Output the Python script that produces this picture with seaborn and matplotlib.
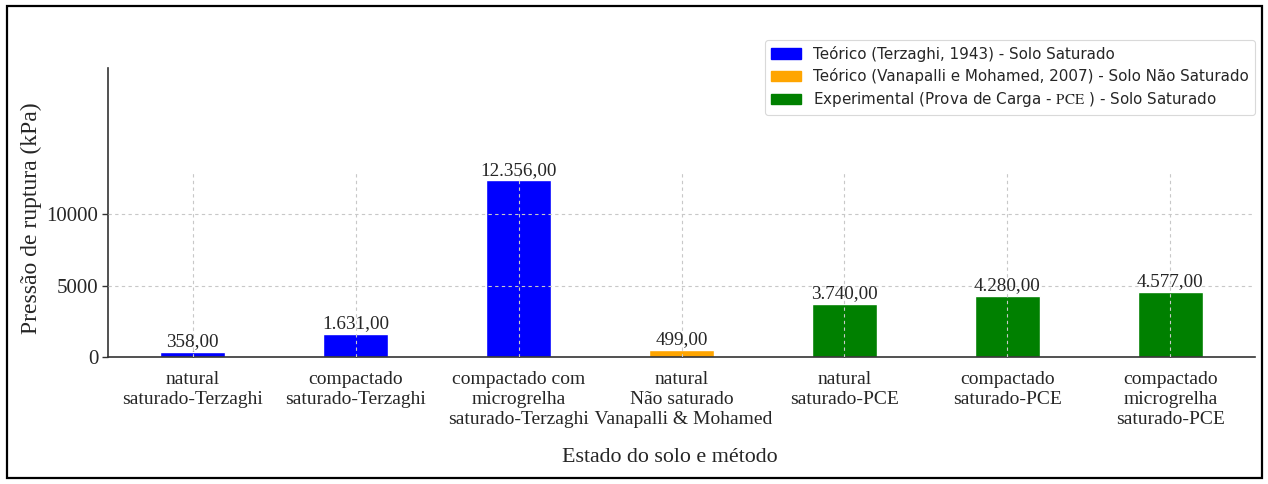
import matplotlib
matplotlib.use("Agg")
import matplotlib.pyplot as plt
import seaborn as sns
import pandas as pd
from matplotlib.patches import Rectangle

# Categories (soil state and method), failure pressures and series
categories = [
    "natural\nsaturado-Terzaghi",
    "compactado\nsaturado-Terzaghi",
    "compactado com\nmicrogrelha\nsaturado-Terzaghi",
    "natural\nNão saturado\n Vanapalli & Mohamed",
    "natural\nsaturado-PCE",
    "compactado\nsaturado-PCE",
    "compactado\nmicrogrelha\nsaturado-PCE",
]
pressures = [358.0, 1631.0, 12356.0, 499.0, 3740.0, 4280.0, 4577.0]
series_names = [
    "Teórico (Terzaghi, 1943) - Solo Saturado",
    "Teórico (Vanapalli e Mohamed, 2007) - Solo Não Saturado",
    "Experimental (Prova de Carga - $\\mathrm{PCE}$ ) - Solo Saturado",
]
series_of_bar = [0, 0, 0, 1, 2, 2, 2]
series_colors = ["#0000FF", "#FFA500", "#008000"]
yticks = [0, 5000, 10000]

sns.set_theme(style="white")
plt.rcParams["mathtext.fontset"] = "stix"
serif = ["Liberation Serif", "DejaVu Serif"]

df = pd.DataFrame({
    "estado": categories,
    "pressao": pressures,
    "serie": [series_names[i] for i in series_of_bar],
})

fig = plt.figure(figsize=(12.68, 4.84), dpi=100)
W, H = 1268, 484
ax = fig.add_axes([108 / W, (H - 357) / H, (1255 - 108) / W, (357 - 68) / H])

sns.barplot(
    data=df, x="estado", y="pressao", hue="serie",
    hue_order=series_names, palette=series_colors,
    dodge=False, width=0.4, saturation=1, legend=False, ax=ax,
    order=categories,
)

ax.set_xlim(-0.52, len(categories) - 1 + 0.52)
ax.set_ylim(0, 20230)

# grid drawn over the bars: horizontal at the ticks, vertical up to the data top
grid_kw = dict(color="#c8c8c8", linestyle=(0, (3, 3)), linewidth=0.8, zorder=5)
for yv in yticks[1:]:
    ax.axhline(yv, **grid_kw)
ax.vlines(range(len(categories)), 0, max(pressures) * 1.05, **grid_kw)

# value labels in Brazilian number format
def br(v):
    return f"{v:,.2f}".replace(",", "X").replace(".", ",").replace("X", ".")

for cont in ax.containers:
    ax.bar_label(cont, labels=[br(b.get_height()) for b in cont],
                 padding=1, fontsize=13.8, family=serif, zorder=6)

ax.set_yticks(yticks)
ax.set_yticklabels([str(t) for t in yticks], family=serif, fontsize=15)
ax.set_xticks(range(len(categories)))
ax.set_xticklabels(categories, family=serif, fontsize=14, linespacing=1.25)
ax.tick_params(axis="y", direction="out", length=4, width=1, color="#333333", left=True, pad=3)
ax.tick_params(axis="x", direction="in", length=4, width=1, color="#333333", bottom=True, pad=10)

ax.set_xlabel("Estado do solo e método", family=serif, fontsize=15.8)
ax.xaxis.set_label_coords((670 - 108) / 1147, (357 - 457) / 289)
ax.xaxis.label.set_va("center")
ax.set_ylabel("Pressão de ruptura (kPa)", family=serif, fontsize=17)
ax.yaxis.set_label_coords((31 - 108) / 1147, (357 - 218) / 289)
ax.yaxis.label.set_va("center")

for side in ("top", "right"):
    ax.spines[side].set_visible(False)
for side in ("left", "bottom"):
    ax.spines[side].set_color("#333333")
    ax.spines[side].set_linewidth(1.2)

handles = [plt.Rectangle((0, 0), 1, 1, color=c) for c in series_colors]
leg = ax.legend(handles, series_names, loc="upper right",
                bbox_to_anchor=(1.0, 1 + (68 - 40) / (357 - 68)),
                borderaxespad=0, frameon=True, labelspacing=0.4,
                prop={"family": "DejaVu Sans", "size": 10.9})
leg.get_frame().set_edgecolor("#d0d0d0")
leg.get_frame().set_linewidth(0.8)

# outer frame of the figure
fig.patches.append(Rectangle((7 / W, 6 / H), (1262 - 7) / W, (478 - 6) / H,
                             transform=fig.transFigure, fill=False,
                             edgecolor="black", linewidth=1.6))

fig.savefig("out.png", dpi=100)
